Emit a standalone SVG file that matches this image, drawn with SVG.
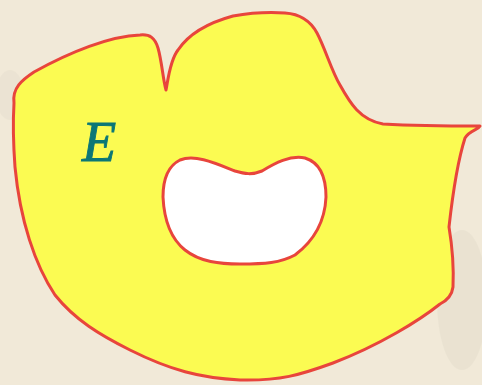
<svg xmlns="http://www.w3.org/2000/svg" width="482" height="385" viewBox="0 0 482 385">
<defs>
<style>
.shape{fill:#fbfb52;stroke:#e8453c;stroke-width:3;stroke-linejoin:round}
.lbl{font-family:"Liberation Serif",serif;font-style:italic;font-size:56px;fill:#0b7776;stroke:#0b7776;stroke-width:0.9}
</style>
</defs>
<rect width="482" height="385" fill="#f1e9d8"/>
<ellipse cx="462" cy="300" rx="25" ry="70" fill="#ddd6c6" opacity="0.35"/>
<ellipse cx="10" cy="95" rx="14" ry="25" fill="#ddd6c6" opacity="0.3"/>
<g id="region-E">
<path class="shape" d="M14,103 C12,88 22,80 34,72 C70,52 110,36 140,35 C150,34 155,38 158,48 C162,62 163,80 166,90 C168,80 170,60 178,50 C186,38 200,25 233,16 C250,13 270,12 285,13 C300,14 310,20 317,33 C325,48 332,72 340,85 C350,103 360,120 383,124 C420,126 460,126 480,126 C478,130 470,130 465,138 C458,160 452,200 449,227 C452,245 454,265 453,287 C452,295 448,300 440,304 C420,320 380,345 333,363 C300,375 280,381 240,380 C200,378 170,370 130,350 C100,335 75,320 55,295 C35,265 20,220 15,167 C13,140 13,120 14,103 Z"/>
<path d="M180,160 C195,154 215,163 235,171 C245,174 252,175 262,171 C275,163 290,155 305,158 C318,162 326,175 326,197 C325,220 315,240 295,255 C280,263 265,264 240,264 C220,264 200,262 185,250 C170,238 164,218 163,197 C163,180 168,166 180,160 Z" fill="#ffffff" stroke="#e8453c" stroke-width="3"/>
<text class="lbl" x="82" y="161">E</text>
</g>
</svg>
